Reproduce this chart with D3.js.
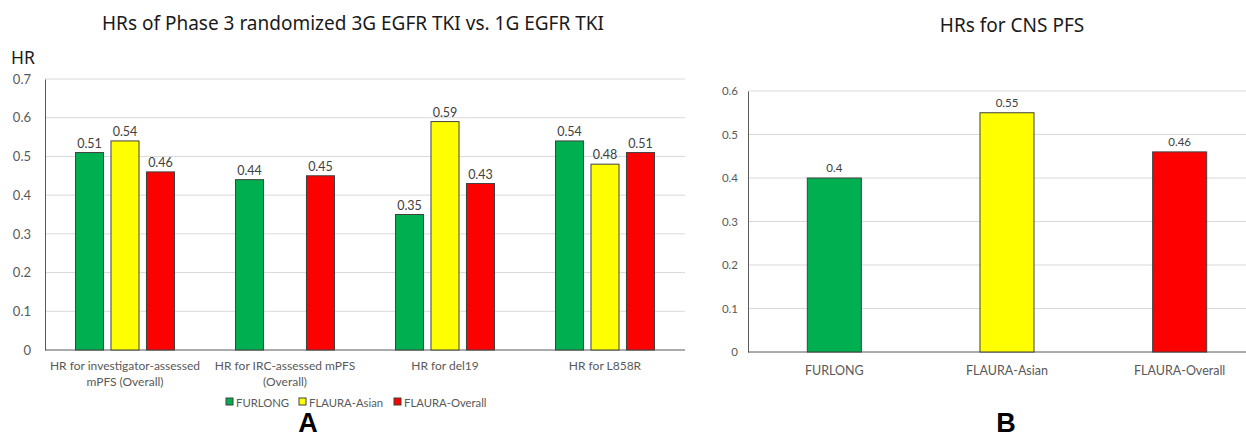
<!DOCTYPE html>
<html>
<head>
<meta charset="utf-8">
<script src="https://cdn.jsdelivr.net/npm/d3@7"></script>
<style>
  body { margin: 0; background: #fff; }
  svg { display: block; font-family: "Noto Sans", sans-serif; }
  .small { font-family: Lato, "Noto Sans", sans-serif; }
</style>
</head>
<body>
<div id="chart"></div>
<script>
// datos panel A
var categoriesA = ["HR for investigator-assessed|mPFS (Overall)", "HR for IRC-assessed mPFS|(Overall)", "HR for del19", "HR for L858R"];
var seriesNames = ["FURLONG", "FLAURA-Asian", "FLAURA-Overall"];
var furlongA = [0.51, 0.44, 0.35, 0.54];
var flauraAsianA = [0.54, null, 0.59, 0.48];
var flauraOverallA = [0.46, 0.45, 0.43, 0.51];
var ticksA = [0, 0.1, 0.2, 0.3, 0.4, 0.5, 0.6, 0.7];

// datos panel B
var categoriesB = ["FURLONG", "FLAURA-Asian", "FLAURA-Overall"];
var valuesB = [0.4, 0.55, 0.46];
var ticksB = [0, 0.1, 0.2, 0.3, 0.4, 0.5, 0.6];

var colors = ["#00B050", "#FFFF00", "#FF0000"];

var W = 1246, H = 437;
var svg = d3.select("#chart").append("svg")
  .attr("width", W).attr("height", H);

// ---------- panel A ----------
var plotA = {left: 45, right: 685, top: 79, bottom: 350};

var x0 = d3.scaleBand().domain(categoriesA).range([plotA.left, plotA.right]);
var x1 = d3.scaleBand().domain(seriesNames).range([0, x0.bandwidth()])
  .paddingInner(0.21).paddingOuter(0.86);
var yA = d3.scaleLinear().domain([0, 0.7]).range([plotA.bottom, plotA.top]);

var gA = svg.append("g");

// lineas de rejilla
gA.selectAll(".gridA").data(ticksA.filter(function(t){ return t > 0; }))
  .enter().append("line")
  .attr("x1", plotA.left).attr("x2", plotA.right)
  .attr("y1", function(d){ return yA(d); }).attr("y2", function(d){ return yA(d); })
  .attr("stroke", "#d9d9d9").attr("stroke-width", 1);

// eje y
var axisA = gA.append("g")
  .attr("transform", "translate(" + plotA.left + ",0)")
  .call(d3.axisLeft(yA).tickValues(ticksA).tickSize(0).tickPadding(14)
    .tickFormat(function(d){ return d === 0 ? "0" : d3.format(".1f")(d); }));
axisA.select(".domain").attr("stroke", "#595959");
axisA.selectAll("text").attr("fill", "#595959").attr("class", "small")
  .style("font-size", "13px");

// eje x
gA.append("line")
  .attr("x1", plotA.left).attr("x2", plotA.right)
  .attr("y1", yA(0)).attr("y2", yA(0))
  .attr("stroke", "#595959").attr("stroke-width", 1);

var rowsA = categoriesA.map(function(c, i){
  return {cat: c, vals: [furlongA[i], flauraAsianA[i], flauraOverallA[i]]};
});

var groups = gA.selectAll(".grp").data(rowsA).enter().append("g")
  .attr("transform", function(d){ return "translate(" + x0(d.cat) + ",0)"; });

var barData = function(d){
  return seriesNames.map(function(s, j){ return {s: s, v: d.vals[j], c: colors[j]}; })
    .filter(function(e){ return e.v != null; });
};

groups.selectAll("rect").data(barData).enter().append("rect")
  .attr("x", function(d){ return x1(d.s); })
  .attr("y", function(d){ return yA(d.v); })
  .attr("width", x1.bandwidth())
  .attr("height", function(d){ return yA(0) - yA(d.v); })
  .attr("fill", function(d){ return d.c; })
  .attr("stroke", "#404040").attr("stroke-width", 1);

groups.selectAll(".val").data(barData).enter().append("text")
  .attr("class", "small")
  .attr("x", function(d){ return x1(d.s) + x1.bandwidth() / 2; })
  .attr("y", function(d){ return yA(d.v) - 5; })
  .attr("text-anchor", "middle")
  .attr("fill", "#404040").style("font-size", "12.5px")
  .text(function(d){ return d.v; });

// etiquetas de categoria
gA.selectAll(".catA").data(categoriesA).enter().append("text")
  .attr("class", "small")
  .attr("x", function(d){ return x0(d) + x0.bandwidth() / 2; })
  .attr("y", 370)
  .attr("text-anchor", "middle")
  .attr("fill", "#595959").style("font-size", "12px")
  .each(function(d){
    var t = d3.select(this);
    d.split("|").forEach(function(line, k){
      t.append("tspan").attr("x", x0(d) + x0.bandwidth() / 2)
        .attr("dy", k === 0 ? 0 : 16).text(line);
    });
  });

// leyenda
var legend = gA.append("g").attr("transform", "translate(226,402)");
var legendX = [0, 73, 168];
seriesNames.forEach(function(s, j){
  var it = legend.append("g").attr("transform", "translate(" + legendX[j] + ",0)");
  it.append("rect").attr("x", 0).attr("y", -4).attr("width", 7).attr("height", 7)
    .attr("fill", colors[j]).attr("stroke", "#404040").attr("stroke-width", 1);
  it.append("text").attr("class", "small").attr("x", 10).attr("y", 4.5)
    .attr("fill", "#595959").style("font-size", "11.3px").text(s);
});

// titulos
svg.append("text").attr("x", 353).attr("y", 30).attr("text-anchor", "middle")
  .attr("fill", "#1a1a1a").style("font-size", "19px")
  .text("HRs of Phase 3 randomized 3G EGFR TKI vs. 1G EGFR TKI");
svg.append("text").attr("x", 11).attr("y", 64)
  .attr("fill", "#1a1a1a").style("font-size", "17.5px").text("HR");
svg.append("text").attr("x", 308).attr("y", 432).attr("text-anchor", "middle")
  .style("font-family", "'Liberation Sans', Arial, sans-serif").style("font-weight", "bold")
  .style("font-size", "27px").attr("fill", "#000").text("A");

// ---------- panel B ----------
var plotB = {left: 748, right: 1266, top: 91, bottom: 352};

var xB = d3.scaleBand().domain(categoriesB).range([plotB.left, plotB.right])
  .paddingInner(0.687).paddingOuter(0.3435);
var yB = d3.scaleLinear().domain([0, 0.6]).range([plotB.bottom, plotB.top]);

var gB = svg.append("g");

gB.selectAll(".gridB").data(ticksB.filter(function(t){ return t > 0; }))
  .enter().append("line")
  .attr("x1", plotB.left).attr("x2", plotB.right)
  .attr("y1", function(d){ return yB(d); }).attr("y2", function(d){ return yB(d); })
  .attr("stroke", "#d9d9d9").attr("stroke-width", 1);

var axisB = gB.append("g")
  .attr("transform", "translate(" + plotB.left + ",0)")
  .call(d3.axisLeft(yB).tickValues(ticksB).tickSize(0).tickPadding(10)
    .tickFormat(function(d){ return d === 0 ? "0" : d3.format(".1f")(d); }));
axisB.select(".domain").attr("stroke", "#595959");
axisB.selectAll("text").attr("fill", "#595959").attr("class", "small")
  .style("font-size", "11.5px");

gB.append("line")
  .attr("x1", plotB.left).attr("x2", plotB.right)
  .attr("y1", yB(0)).attr("y2", yB(0))
  .attr("stroke", "#595959").attr("stroke-width", 1);

gB.selectAll(".barB").data(categoriesB).enter().append("rect")
  .attr("x", function(d){ return xB(d); })
  .attr("y", function(d, i){ return yB(valuesB[i]); })
  .attr("width", xB.bandwidth())
  .attr("height", function(d, i){ return yB(0) - yB(valuesB[i]); })
  .attr("fill", function(d, i){ return colors[i]; })
  .attr("stroke", "#404040").attr("stroke-width", 1);

gB.selectAll(".valB").data(categoriesB).enter().append("text")
  .attr("class", "small")
  .attr("x", function(d){ return xB(d) + xB.bandwidth() / 2; })
  .attr("y", function(d, i){ return yB(valuesB[i]) - 6; })
  .attr("text-anchor", "middle")
  .attr("fill", "#404040").style("font-size", "11.5px")
  .text(function(d, i){ return valuesB[i]; });

gB.selectAll(".catB").data(categoriesB).enter().append("text")
  .attr("class", "small")
  .attr("x", function(d){ return xB(d) + xB.bandwidth() / 2; })
  .attr("y", 375)
  .attr("text-anchor", "middle")
  .attr("fill", "#595959").style("font-size", "12.5px")
  .text(function(d){ return d; });

svg.append("text").attr("x", 1012).attr("y", 32).attr("text-anchor", "middle")
  .attr("fill", "#1a1a1a").style("font-size", "19px").text("HRs for CNS PFS");
svg.append("text").attr("x", 1006).attr("y", 432).attr("text-anchor", "middle")
  .style("font-family", "'Liberation Sans', Arial, sans-serif").style("font-weight", "bold")
  .style("font-size", "27px").attr("fill", "#000").text("B");
</script>
</body>
</html>
